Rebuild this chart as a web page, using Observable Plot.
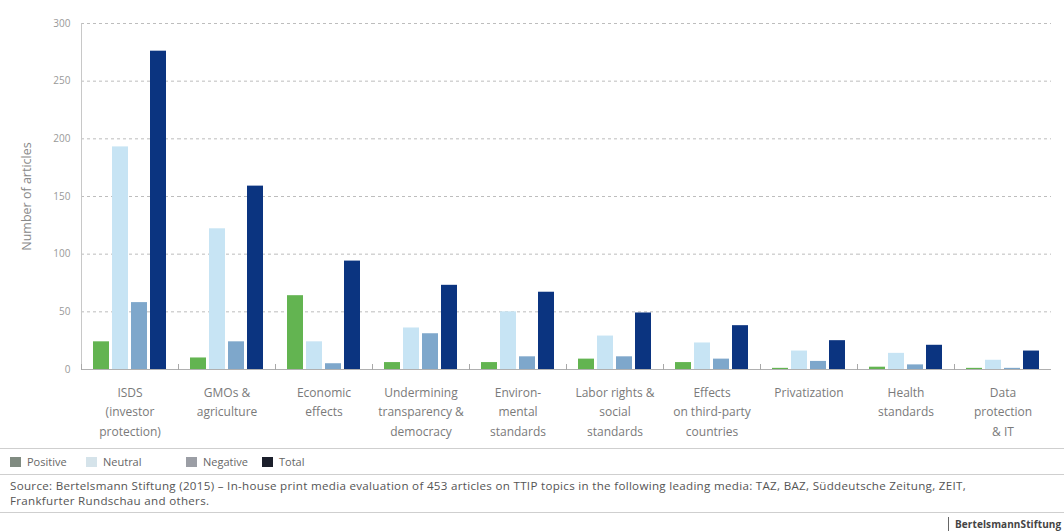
<!DOCTYPE html>
<html><head><meta charset="utf-8">
<script src="https://cdn.jsdelivr.net/npm/d3@7"></script>
<script src="https://cdn.jsdelivr.net/npm/@observablehq/plot@0.6"></script>
<style>
body{margin:0;background:#fff;font-family:"Open Sans",sans-serif;}
#wrap{width:1064px;height:532px;overflow:hidden;position:relative;background:#fff;}
#chart svg{display:block;}
.sep{position:absolute;left:0;width:1064px;border-top:1px solid #cfcfcf;height:0;}
#legend{position:absolute;left:10px;top:455px;height:14px;font-size:11px;color:#666;}
#legend .item{position:absolute;top:0;white-space:nowrap;line-height:14px;}
#legend .sw{display:inline-block;width:11px;height:10px;vertical-align:-1px;margin-right:6px;}
#source{position:absolute;left:10px;top:478px;font-family:"Open Sans",sans-serif;font-size:11.6px;line-height:15px;color:#555;width:1050px;letter-spacing:0.3px;}
#brand{position:absolute;left:948px;top:517px;font-size:10px;font-weight:bold;color:#444;letter-spacing:0.1px;white-space:nowrap;border-left:1px solid #666;padding-left:6px;line-height:14px;}
</style></head><body>
<div id="wrap">
<div id="chart"></div>
<div class="sep" style="top:448px"></div>
<div id="legend"></div>
<div class="sep" style="top:474px"></div>
<div id="source">Source: Bertelsmann Stiftung (2015) – In-house print media evaluation of 453 articles on TTIP topics in the following leading media: TAZ, BAZ, Süddeutsche Zeitung, ZEIT,<br>Frankfurter Rundschau and others.</div>
<div class="sep" style="top:512px"></div>
<div id="brand">BertelsmannStiftung</div>
</div>
<script>
const topics = ["ISDS","GMOs","Economic","Undermining","Environ","Labor","Effects","Privatization","Health","Data"];
const topicLabels = ["ISDS\n(investor\nprotection)","GMOs &\nagriculture","Economic\neffects","Undermining\ntransparency &\ndemocracy","Environ-\nmental\nstandards","Labor rights &\nsocial\nstandards","Effects\non third-party\ncountries","Privatization","Health\nstandards","Data\nprotection\n& IT"];
const series = ["Positive","Neutral","Negative","Total"];
const positive = [24,10,64,6,6,9,6,1,2,1];
const neutral  = [193,122,24,36,50,29,23,16,14,8];
const negative = [58,24,5,31,11,11,9,7,4,1];
const total    = [276,159,94,73,67,49,38,25,21,16];
const yTicks = [0,50,100,150,200,250,300];
const colors = ["#63b451","#c7e4f4","#7ea7cb","#0b3480"];
const legendColors = ["#808b81","#d5e3ea","#9b9ea5","#1b1f2b"];
const legendX = [0,76,176,252];

const values = [positive,neutral,negative,total];
const data = topics.flatMap((t,i)=>series.map((s,j)=>({topic:t,series:s,value:values[j][i]})));

const W=1064,H=440,mt=23,mb=71,ml=77,mr=9;
const plot = Plot.plot({
  width:W,height:H,marginTop:mt,marginBottom:mb,marginLeft:ml,marginRight:mr,
  style:{fontFamily:"'Open Sans',sans-serif",background:"transparent"},
  fx:{domain:topics,padding:0,label:null},
  x:{domain:series,paddingInner:0.15,paddingOuter:0.525,axis:null},
  y:{domain:[0,300],label:null},
  color:{domain:series,range:colors},
  marks:[
    Plot.ruleY(yTicks.filter(d=>d>0),{stroke:"#bdbdbd",strokeDasharray:"3,3"}),
    Plot.barY(data,{fx:"topic",x:"series",y:"value",fill:"series"}),
    Plot.ruleY([0],{stroke:"#b0b0b0"}),
    Plot.frame({anchor:"left",stroke:"#c8c8c8",facetAnchor:"left"}),
    Plot.frame({anchor:"left",stroke:"#a8a8a8",insetTop:H-mt-mb-5}),
    Plot.axisY({ticks:yTicks,tickSize:0,tickPadding:11,fontSize:10,color:"#999",label:null}),
    Plot.axisY({ticks:[],label:"Number of articles",labelAnchor:"center",labelOffset:59,labelArrow:"none",fontSize:12.5,color:"#888",dy:6}),
    Plot.axisFx({anchor:"bottom",tickSize:0,tickPadding:14,fontSize:12,lineHeight:1.6,color:"#7a7a7a",label:null,tickFormat:d=>topicLabels[topics.indexOf(d)]})
  ]
});
document.getElementById("chart").appendChild(plot);

const leg = document.getElementById("legend");
series.forEach((s,i)=>{
  const it=document.createElement("div");
  it.className="item";it.style.left=legendX[i]+"px";
  it.innerHTML=`<span class="sw" style="background:${legendColors[i]}"></span>${s}`;
  leg.appendChild(it);
});
</script>
</body></html>
